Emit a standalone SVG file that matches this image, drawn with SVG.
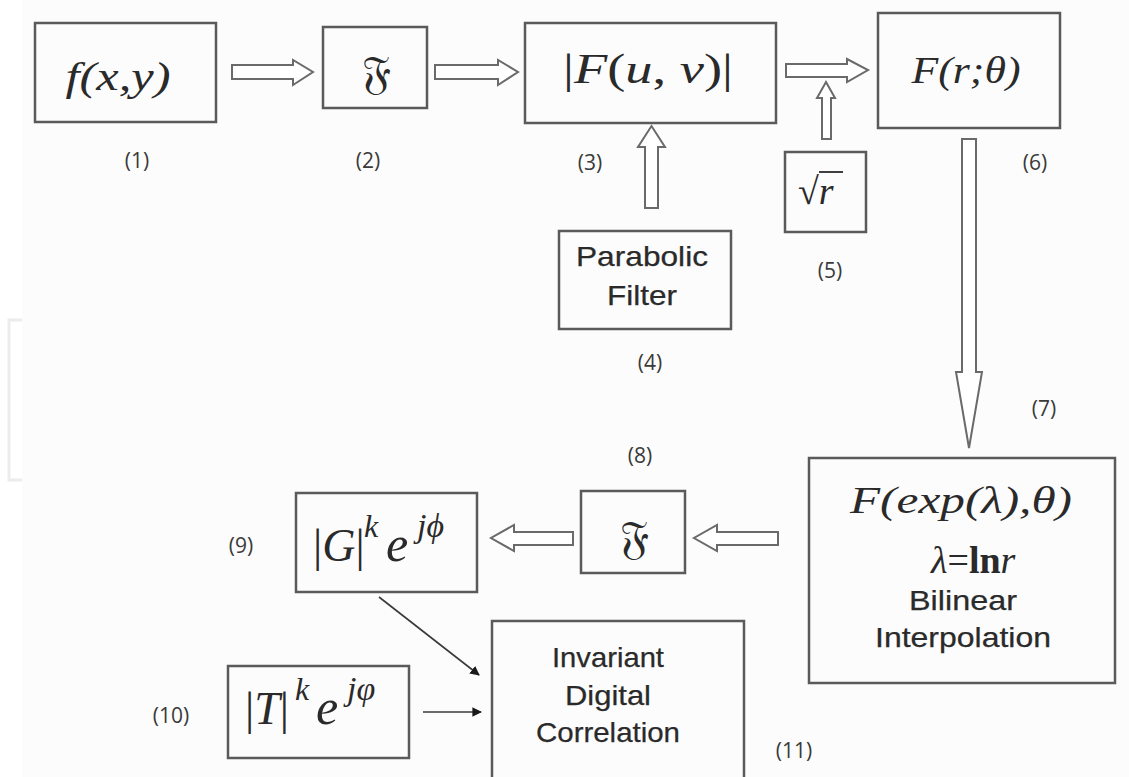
<svg xmlns="http://www.w3.org/2000/svg" width="1129" height="777" viewBox="0 0 1129 777">
<style>
.box{fill:none;stroke:#5a5a5a;stroke-width:2.5}
.harrow{fill:#ffffff;stroke:#6a6a6a;stroke-width:2;stroke-linejoin:miter}
.thin{stroke:#3a3a3a;stroke-width:1.6;fill:none;marker-end:url(#ah)}
.num{font-family:"Open Sans","Liberation Sans",sans-serif;font-size:21px;fill:#3a3a3a;text-anchor:middle}
.math{font-family:"Liberation Serif","DejaVu Serif",serif;font-style:italic;fill:#2a2a2a}
.sans{font-family:"Liberation Sans",Arial,sans-serif;font-size:28px;fill:#2a2a2a;stroke:#2a2a2a;stroke-width:0.25;text-anchor:middle}
.frak{font-family:"DejaVu Sans","DejaVu Serif","Noto Sans",serif;font-size:46px;fill:#2a2a2a;text-anchor:middle}
</style>
<defs>
<marker id="ah" viewBox="0 0 10 10" refX="9" refY="5" markerWidth="6" markerHeight="6" orient="auto" markerUnits="strokeWidth">
<path d="M0,0 L10,5 L0,10 z" fill="#1a1a1a"/>
</marker>
</defs>
<rect x="0" y="0" width="1129" height="777" fill="#fcfcfc"/>
<rect x="0" y="0" width="22" height="777" fill="#ffffff"/>
<path d="M22,320 H9 V480 H22" fill="none" stroke="#ececec" stroke-width="3"/>

<g id="connectors">
<polygon class="harrow" points="232,65 293,65 293,60 313,72 293,85 293,79 232,79"/>
<polygon class="harrow" points="435,65 498,65 498,60 518,72 498,85 498,79 435,79"/>
<polygon class="harrow" points="786,64 847,64 847,59 868,70 847,82 847,77 786,77"/>
<polygon class="harrow" points="822,139 822,98 817,98 826,82 835,98 831,98 831,139"/>
<polygon class="harrow" points="645,208 645,147 638,147 651.5,126 665,147 658,147 658,208"/>
<polygon class="harrow" points="962,139 976,139 976,372 982,372 969,448 956,372 962,372"/>
<polygon class="harrow" points="778,532 717,532 717,525 694,538 717,551 717,545 778,545"/>
<polygon class="harrow" points="573,532 514,532 514,525 491,538 514,551 514,545 573,545"/>
<line class="thin" x1="379" y1="597" x2="479" y2="675"/>
<line class="thin" x1="423" y1="712" x2="481" y2="712"/>
</g>

<g id="n1">
<rect class="box" x="35" y="23" width="181" height="99"/>
<text class="math" x="118" y="90" font-size="40" text-anchor="middle" textLength="105" lengthAdjust="spacingAndGlyphs">f(x,y)</text>
<text class="num" x="137" y="168">(1)</text>
</g>

<g id="n2">
<rect class="box" x="323" y="27" width="104" height="81"/>
<text class="frak" x="376" y="88">𝔉</text>
<text class="num" x="368" y="168">(2)</text>
</g>

<g id="n3">
<rect class="box" x="525" y="23" width="251" height="100"/>
<text class="math" x="648" y="83" font-size="42" text-anchor="middle" textLength="170" lengthAdjust="spacingAndGlyphs"><tspan font-style="normal">|</tspan>F<tspan font-style="normal">(</tspan>u<tspan font-style="normal">,</tspan> v<tspan font-style="normal">)|</tspan></text>
<text class="num" x="590" y="170">(3)</text>
</g>

<g id="n4">
<rect class="box" x="559" y="231" width="172" height="98"/>
<text class="sans" x="642" y="266" textLength="132" lengthAdjust="spacingAndGlyphs">Parabolic</text>
<text class="sans" x="642" y="305" textLength="70" lengthAdjust="spacingAndGlyphs">Filter</text>
<text class="num" x="650" y="370">(4)</text>
</g>

<g id="n5">
<rect class="box" x="785" y="152" width="81" height="80"/>
<text class="math" x="798" y="204" font-size="38"><tspan font-style="normal">√</tspan>r</text>
<line x1="819" y1="172" x2="843" y2="172" stroke="#2a2a2a" stroke-width="1.8"/>
<text class="num" x="830" y="278">(5)</text>
</g>

<g id="n6">
<rect class="box" x="878" y="13" width="182" height="115"/>
<text class="math" x="966" y="83" font-size="38" text-anchor="middle" textLength="109" lengthAdjust="spacingAndGlyphs">F(r;θ)</text>
<text class="num" x="1035" y="170">(6)</text>
</g>

<g id="n7">
<rect class="box" x="809" y="458" width="306" height="225"/>
<text class="math" x="961" y="513" font-size="38" text-anchor="middle" textLength="222" lengthAdjust="spacingAndGlyphs">F(exp(λ),θ)</text>
<text class="math" x="931" y="573" font-size="38">λ<tspan font-style="normal">=</tspan><tspan font-style="normal" font-weight="bold">ln</tspan>r</text>
<text class="sans" x="963" y="610" textLength="108" lengthAdjust="spacingAndGlyphs">Bilinear</text>
<text class="sans" x="963" y="647" textLength="176" lengthAdjust="spacingAndGlyphs">Interpolation</text>
<text class="num" x="1044" y="416">(7)</text>
</g>

<g id="n8">
<rect class="box" x="581" y="491" width="104" height="82"/>
<text class="frak" x="634" y="553">𝔉</text>
<text class="num" x="640" y="463">(8)</text>
</g>

<g id="n9">
<rect class="box" x="296" y="493" width="181" height="99"/>
<text class="math" x="313" y="561" font-size="46"><tspan font-style="normal">|</tspan>G<tspan font-style="normal">|</tspan><tspan x="364" y="537" font-size="32">k</tspan><tspan x="386" y="561" font-size="50">e</tspan><tspan x="417" y="537" font-size="34">jϕ</tspan></text>
<text class="num" x="241" y="553">(9)</text>
</g>

<g id="n10">
<rect class="box" x="228" y="666" width="181" height="92"/>
<text class="math" x="245" y="724" font-size="46"><tspan font-style="normal">|</tspan>T<tspan font-style="normal">|</tspan><tspan x="295" y="700" font-size="32">k</tspan><tspan x="316" y="724" font-size="50">e</tspan><tspan x="347" y="700" font-size="34">jφ</tspan></text>
<text class="num" x="171" y="723">(10)</text>
</g>

<g id="n11">
<rect class="box" x="492" y="621" width="252" height="160"/>
<text class="sans" x="608" y="667" textLength="112" lengthAdjust="spacingAndGlyphs">Invariant</text>
<text class="sans" x="608" y="705" textLength="86" lengthAdjust="spacingAndGlyphs">Digital</text>
<text class="sans" x="608" y="742" textLength="144" lengthAdjust="spacingAndGlyphs">Correlation</text>
<text class="num" x="794" y="758">(11)</text>
</g>
</svg>
